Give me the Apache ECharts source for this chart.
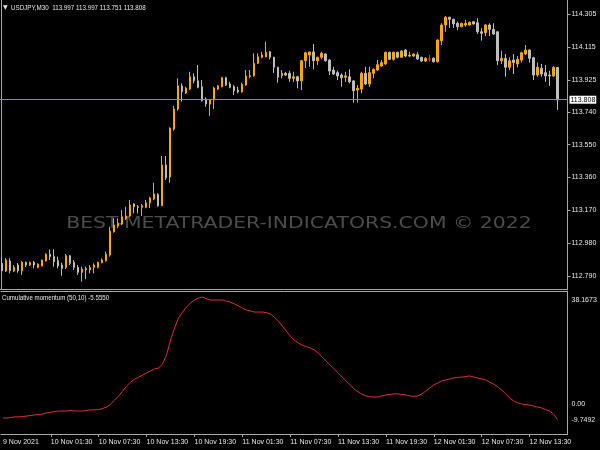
<!DOCTYPE html>
<html><head><meta charset="utf-8">
<script src="https://cdn.jsdelivr.net/npm/echarts@6/dist/echarts.min.js"></script>
<style>html,body{margin:0;padding:0;background:#000}#c{width:600px;height:450px}</style>
</head><body><div id="c"></div>
<script>
const symbolName = 'USDJPY,M30';
const indicatorName = 'Cumulative momentum (50,10)';
const watermarkText = 'BEST-METATRADER-INDICATORS.COM © 2022';
const timeLabels = ['9 Nov 2021','10 Nov 01:30','10 Nov 07:30','10 Nov 13:30','10 Nov 19:30','11 Nov 01:30','11 Nov 07:30','11 Nov 13:30','11 Nov 19:30','12 Nov 01:30','12 Nov 07:30','12 Nov 13:30'];
const barsPerLabel = 12;
const emptySlots = 2;
const priceTicks = [112.790,112.980,113.170,113.360,113.550,113.740,113.925,114.115,114.305];
const momentumTicks = [38.1673, 0, -9.7492];

const opens = [112.862,112.818,112.876,112.818,112.852,112.819,112.868,112.852,112.868,112.839,
112.847,112.876,112.915,112.901,112.877,112.852,112.839,112.906,112.868,112.839,
112.810,112.831,112.824,112.839,112.839,112.866,112.877,112.910,113.045,113.078,
113.090,113.123,113.136,113.206,113.190,113.187,113.187,113.212,113.235,113.262,
113.196,113.432,113.362,113.640,113.756,113.890,113.849,113.872,113.943,113.920,
113.885,113.814,113.785,113.808,113.872,113.885,113.938,113.901,113.885,113.866,
113.855,113.895,113.943,113.948,114.021,114.056,114.059,114.088,114.056,113.998,
113.949,113.963,113.963,113.934,113.943,113.920,114.036,114.069,114.087,114.036,
114.056,114.075,114.040,113.982,113.967,113.953,113.940,113.943,113.919,113.866,
113.872,113.963,113.901,113.963,113.982,114.005,114.017,114.085,114.044,114.085,
114.056,114.098,114.063,114.063,114.071,114.056,114.034,114.046,114.050,114.030,
114.152,114.243,114.288,114.276,114.253,114.233,114.243,114.243,114.262,114.256,
114.204,114.198,114.243,114.218,114.204,114.036,114.050,113.998,114.040,114.017,
114.040,114.075,114.098,114.053,113.953,113.992,113.967,113.953,113.948,113.997];
const closes = [112.819,112.881,112.819,112.839,112.819,112.868,112.852,112.866,112.852,112.858,
112.881,112.915,112.901,112.872,112.847,112.833,112.906,112.862,112.839,112.810,
112.829,112.825,112.839,112.852,112.868,112.881,112.915,113.049,113.084,113.094,
113.132,113.136,113.200,113.190,113.187,113.196,113.213,113.241,113.264,113.196,
113.432,113.357,113.646,113.756,113.890,113.856,113.878,113.943,113.920,113.882,
113.804,113.785,113.808,113.878,113.890,113.938,113.895,113.882,113.862,113.855,
113.899,113.948,113.949,114.021,114.059,114.069,114.085,114.056,113.998,113.940,
113.963,113.953,113.934,113.943,113.919,114.036,114.082,114.087,114.036,114.056,
114.079,114.036,113.976,113.959,113.948,113.938,113.948,113.914,113.862,113.876,
113.963,113.901,113.967,113.986,114.013,114.025,114.085,114.044,114.085,114.056,
114.092,114.063,114.069,114.075,114.046,114.034,114.050,114.046,114.030,114.156,
114.243,114.288,114.276,114.249,114.233,114.253,114.253,114.259,114.249,114.204,
114.195,114.243,114.218,114.191,114.036,114.050,113.998,114.036,114.025,114.044,
114.082,114.098,114.050,113.953,113.998,113.959,113.948,113.948,113.997,113.808];
const lows = [112.814,112.812,112.804,112.812,112.808,112.795,112.841,112.847,112.833,112.833,
112.844,112.872,112.881,112.843,112.833,112.790,112.829,112.852,112.824,112.795,
112.756,112.771,112.804,112.804,112.833,112.862,112.872,112.901,113.040,113.065,
113.084,113.113,113.132,113.152,113.152,113.136,113.181,113.183,113.229,113.190,
113.194,113.345,113.329,113.631,113.746,113.799,113.843,113.866,113.905,113.876,
113.799,113.770,113.716,113.756,113.866,113.882,113.890,113.876,113.837,113.847,
113.851,113.890,113.934,113.943,114.017,114.050,114.056,114.044,113.965,113.909,
113.934,113.948,113.914,113.914,113.876,113.866,113.994,114.001,113.986,114.011,
114.044,114.030,113.953,113.953,113.924,113.885,113.914,113.905,113.793,113.793,
113.847,113.895,113.885,113.934,113.978,114.001,114.013,114.040,114.036,114.050,
114.052,114.056,114.056,114.059,114.040,114.029,114.029,114.030,114.025,114.025,
114.127,114.204,114.226,114.226,114.214,114.230,114.233,114.239,114.245,114.191,
114.152,114.179,114.179,114.185,114.011,114.017,113.943,113.982,113.959,113.998,
114.025,114.069,114.025,113.924,113.943,113.943,113.914,113.890,113.943,113.751];
const highs = [112.901,112.893,112.891,112.852,112.864,112.876,112.872,112.873,112.876,112.862,
112.884,112.920,112.943,112.943,112.901,112.866,112.916,112.910,112.881,112.852,
112.843,112.843,112.852,112.862,112.872,112.891,112.930,113.074,113.123,113.123,
113.171,113.190,113.229,113.210,113.200,113.206,113.229,113.248,113.329,113.268,
113.484,113.484,113.650,113.774,113.934,113.905,113.885,113.972,113.963,114.011,
113.924,113.824,113.812,113.885,113.895,113.943,113.943,113.914,113.895,113.885,
113.909,113.982,113.982,114.079,114.079,114.088,114.146,114.092,114.059,114.001,
113.982,113.971,113.978,113.972,113.948,114.040,114.088,114.088,114.133,114.059,
114.088,114.079,114.044,114.001,113.978,113.963,113.972,113.986,113.924,113.895,
113.972,114.001,114.001,113.992,114.040,114.040,114.088,114.088,114.088,114.088,
114.098,114.104,114.088,114.079,114.085,114.059,114.056,114.069,114.056,114.160,
114.253,114.295,114.291,114.279,114.262,114.256,114.272,114.262,114.266,114.282,
114.224,114.249,114.253,114.253,114.204,114.094,114.075,114.056,114.075,114.063,
114.088,114.127,114.102,114.059,114.025,114.017,114.011,113.978,114.005,113.997];
const momentum = [-5.0,-5.0,-4.8,-4.6,-4.6,-4.5,-4.3,-4.1,-3.9,-3.7,
-3.6,-3.2,-2.9,-2.7,-2.5,-2.5,-2.5,-2.3,-2.5,-2.5,
-2.5,-2.3,-2.1,-2.1,-2.0,-1.6,-1.1,0,1.4,2.9,
4.6,6.4,7.8,8.9,9.6,10.3,11.1,11.8,12.5,12.8,
14.3,17.5,22.8,27.1,30.7,32.8,34.6,36.0,37.1,37.8,
38.1673,37.5,37.1,37.1,37.1,37.1,36.7,36.4,35.7,35.0,
34.2,33.5,33.2,32.8,32.8,32.8,32.6,32.1,31.0,29.6,
27.8,26.0,24.3,22.8,21.8,21.0,20.5,20.0,19.3,18.2,
16.8,15.3,13.9,12.5,11.1,9.6,8.2,6.8,5.4,4.3,
3.4,2.9,2.5,2.5,2.5,2.9,3.2,3.4,3.6,3.6,
3.4,3.2,2.9,2.7,2.9,3.6,4.6,5.7,6.8,7.5,
8.2,8.6,8.9,9.3,9.5,9.6,9.8,10.0,9.6,9.3,
8.9,8.6,7.8,7.1,6.1,5.0,3.6,2.1,1.1,0.4,
0,-0.2,-0.4,-0.7,-1.1,-1.4,-2.0,-2.5,-3.6,-5.555];

const UP = '#F8A800', DOWN = '#BDBDBD', DOJI = '#FF2A2A';
const FRAME = '#A8A8A8', TXT = '#E8E8E8';
const FONT = '"Liberation Sans",sans-serif';
const AX_FS = 7;

const nBars = opens.length;
const last = nBars - 1;
const categories = [];
for (let i = 0; i < nBars + emptySlots; i++) {
  const k = i / barsPerLabel;
  categories.push(Number.isInteger(k) && k < timeLabels.length ? timeLabels[k] : '');
}
const isLabelIdx = (idx) => idx % barsPerLabel === 0 && idx / barsPerLabel < timeLabels.length;
const candleData = opens.map((o, i) => {
  const item = { value: [o, closes[i], lows[i], highs[i]] };
  if (o === closes[i]) item.itemStyle = { color: DOJI, color0: DOJI, borderColor: DOJI, borderColor0: DOJI };
  return item;
});
const title = symbolName + '  ' + [opens[last], highs[last], lows[last], closes[last]].map(v => v.toFixed(3)).join(' ');
const indTitle = indicatorName + ' ' + momentum[last].toFixed(4);

const chart = echarts.init(document.getElementById('c'), null, { renderer: 'canvas' });
chart.setOption({
  backgroundColor: '#000',
  animation: false,
  graphic: [
    { type: 'text', x: 299, y: 224, scaleX: 1.36, z: -1, silent: true,
      style: { text: watermarkText, align: 'center', verticalAlign: 'middle', font: '15px "DejaVu Sans"', fill: '#4C4C4C' } },
    { type: 'text', x: 3, y: 7, silent: true,
      style: { text: '▼', align: 'left', verticalAlign: 'middle', font: '6px "DejaVu Sans"', fill: TXT } },
    { type: 'text', x: 11, y: 8, scaleX: 0.78, silent: true,
      style: { text: title, align: 'left', verticalAlign: 'middle', font: '8px "Liberation Sans"', fill: TXT } },
    { type: 'text', x: 2, y: 298, scaleX: 0.77, silent: true,
      style: { text: indTitle, align: 'left', verticalAlign: 'middle', font: '8px "Liberation Sans"', fill: TXT } }
  ],
  grid: [
    { left: -0.5, top: 0, width: 568, height: 289 },
    { left: -0.5, top: 291, width: 568, height: 143 }
  ],
  xAxis: [
    { type: 'category', gridIndex: 0, data: categories, boundaryGap: true,
      axisLine: { show: true, onZero: false, lineStyle: { color: FRAME } }, axisTick: { show: false }, axisLabel: { show: false }, splitLine: { show: false } },
    { type: 'category', gridIndex: 1, data: categories, boundaryGap: true, position: 'bottom',
      axisLine: { show: true, onZero: false, lineStyle: { color: FRAME } },
      axisTick: { show: true, alignWithLabel: true, interval: (i) => isLabelIdx(i) && i > 0, length: 3, inside: false, lineStyle: { color: FRAME } },
      axisLabel: { interval: (i) => isLabelIdx(i), align: 'left', color: TXT, fontSize: AX_FS, fontFamily: FONT, margin: 5 },
      splitLine: { show: false } },
    { type: 'category', gridIndex: 1, data: categories, position: 'top',
      axisLine: { show: true, onZero: false, lineStyle: { color: FRAME } }, axisTick: { show: false }, axisLabel: { show: false } }
  ],
  yAxis: [
    { type: 'value', gridIndex: 0, position: 'right', min: 112.7134, max: 114.3878, scale: true,
      axisLine: { show: true, lineStyle: { color: FRAME } },
      axisTick: { show: true, length: 3, customValues: priceTicks, lineStyle: { color: FRAME } },
      axisLabel: { customValues: priceTicks, formatter: (v) => v.toFixed(3), color: TXT, fontSize: AX_FS, fontFamily: FONT, margin: 4, align: 'left' },
      splitLine: { show: false } },
    { type: 'value', gridIndex: 1, position: 'right', min: -10.712, max: 40.308,
      axisLine: { show: true, lineStyle: { color: FRAME } },
      axisTick: { show: false },
      axisLabel: { customValues: momentumTicks, color: TXT, fontSize: AX_FS, fontFamily: FONT, margin: 4, align: 'left',
        formatter: (v) => v === momentumTicks[0] ? '{t|' + v.toFixed(4) + '}' : (v === momentumTicks[2] ? '{b|' + v.toFixed(4) + '}' : v.toFixed(2)),
        rich: { t: { padding: [7, 0, 0, 0], color: TXT, fontSize: AX_FS, fontFamily: FONT }, b: { padding: [0, 0, 22, 0], color: TXT, fontSize: AX_FS, fontFamily: FONT } } },
      splitLine: { show: false } },
    { type: 'value', gridIndex: 0, position: 'left', offset: -1.5, min: 112.7134, max: 114.3878,
      axisLine: { show: true, lineStyle: { color: FRAME } }, axisTick: { show: false }, axisLabel: { show: false }, splitLine: { show: false } }
  ],
  series: [
    { type: 'candlestick', xAxisIndex: 0, yAxisIndex: 0, data: candleData, barWidth: 2,
      itemStyle: { color: UP, color0: DOWN, borderColor: UP, borderColor0: DOWN, borderWidth: 1 },
      emphasis: { disabled: true },
      markLine: { symbol: ['none', 'none'], silent: true, animation: false,
        data: [{ yAxis: closes[last] }],
        lineStyle: { color: '#8A86A6', width: 1, type: 'solid' },
        label: { position: 'end', distance: 2, formatter: closes[last].toFixed(3), backgroundColor: '#FFFFFF', color: '#000', padding: [1, 1, 0, 1], fontSize: AX_FS, fontFamily: FONT } } },
    { type: 'line', xAxisIndex: 1, yAxisIndex: 1, data: momentum, showSymbol: false, smooth: false,
      lineStyle: { color: '#E03030', width: 1 }, emphasis: { disabled: true } }
  ]
});
</script></body></html>
